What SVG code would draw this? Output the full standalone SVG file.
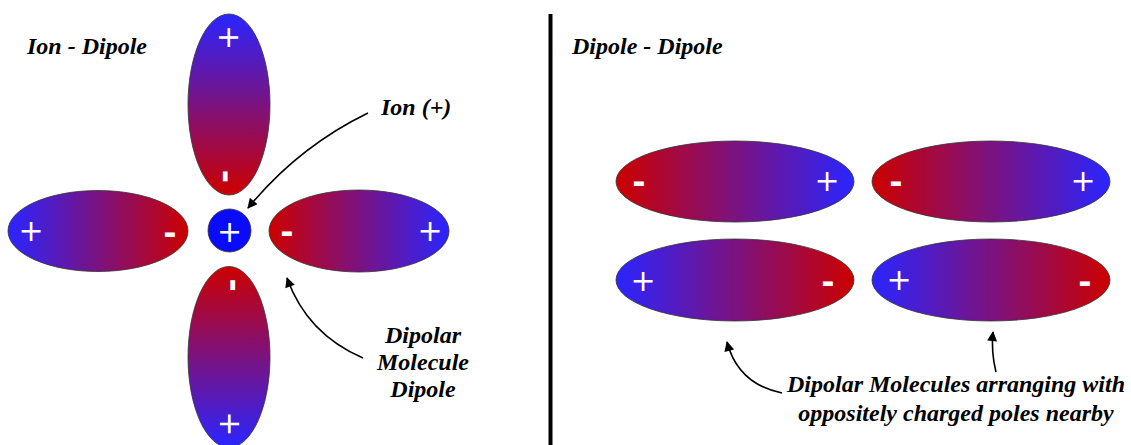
<svg xmlns="http://www.w3.org/2000/svg" width="1131" height="445" viewBox="0 0 1131 445">
<defs>
<linearGradient id="gradA" x1="0" y1="0" x2="1" y2="0">
<stop offset="0" stop-color="#2a25ff"/>
<stop offset="1" stop-color="#cc0000"/>
</linearGradient>
<linearGradient id="gradB" x1="0" y1="0" x2="1" y2="0">
<stop offset="0" stop-color="#cc0000"/>
<stop offset="1" stop-color="#2a25ff"/>
</linearGradient>
<marker id="arr" viewBox="0 0 10 10" refX="9" refY="5" markerWidth="12" markerHeight="10" markerUnits="userSpaceOnUse" orient="auto">
<path d="M0,0 L10,5 L0,10 z" fill="#000"/>
</marker>
<style>
.lbl{font-family:"Liberation Serif","Times New Roman",serif;font-weight:bold;font-style:italic;font-size:24px;fill:#000}
.plus{font-family:"DejaVu Sans",sans-serif;font-size:30px;fill:#fff;text-anchor:middle}
.minus{font-family:"DejaVu Sans",sans-serif;font-weight:bold;font-size:32px;fill:#fff;text-anchor:middle}
.mol{stroke:#333;stroke-width:0.8}
.conn{fill:none;stroke:#000;stroke-width:1.6;marker-end:url(#arr)}
</style>
</defs>
<rect width="1131" height="445" fill="#fff"/>

<line x1="550.5" y1="14" x2="550.5" y2="445" stroke="#000" stroke-width="4"/>

<text class="lbl" x="27" y="54">Ion - Dipole</text>
<text class="lbl" x="572" y="54">Dipole - Dipole</text>

<g id="dipole-left">
<ellipse class="mol" cx="98" cy="231" rx="90" ry="40.5" fill="url(#gradA)"/>
<text class="plus" x="31" y="241">+</text>
<text class="minus" x="170" y="244">-</text>
</g>
<g id="dipole-right">
<ellipse class="mol" cx="359" cy="231" rx="90" ry="41" fill="url(#gradB)"/>
<text class="minus" x="287" y="243">-</text>
<text class="plus" x="430" y="241">+</text>
</g>
<g id="dipole-top" transform="translate(229,104.5) rotate(90)">
<ellipse class="mol" cx="0" cy="0" rx="90.5" ry="41" fill="url(#gradA)"/>
<text class="plus" x="-67" y="10">+</text>
<text class="minus" x="72" y="13">-</text>
</g>
<g id="dipole-bottom" transform="translate(229,357) rotate(-90)">
<ellipse class="mol" cx="0" cy="0" rx="90.5" ry="41" fill="url(#gradA)"/>
<text class="plus" x="-67" y="10">+</text>
<text class="minus" x="72" y="13">-</text>
</g>
<g id="ion">
<circle cx="229.5" cy="230.5" r="21.5" fill="#0a0aff" stroke="#333" stroke-width="0.8"/>
<text class="plus" x="229.5" y="241.5">+</text>
</g>

<g id="dd-1">
<ellipse class="mol" cx="735" cy="181.5" rx="119" ry="40.5" fill="url(#gradB)"/>
<text class="minus" x="639" y="193">-</text>
<text class="plus" x="827" y="191">+</text>
</g>
<g id="dd-2">
<ellipse class="mol" cx="991" cy="181.5" rx="119" ry="40.5" fill="url(#gradB)"/>
<text class="minus" x="896" y="193">-</text>
<text class="plus" x="1083" y="191">+</text>
</g>
<g id="dd-3">
<ellipse class="mol" cx="735" cy="280" rx="119" ry="41" fill="url(#gradA)"/>
<text class="plus" x="643" y="291">+</text>
<text class="minus" x="828" y="293">-</text>
</g>
<g id="dd-4">
<ellipse class="mol" cx="991" cy="280" rx="119" ry="41" fill="url(#gradA)"/>
<text class="plus" x="899" y="290">+</text>
<text class="minus" x="1085" y="293">-</text>
</g>

<g id="label-ion">
<text class="lbl" x="381" y="115">Ion (+)</text>
</g>
<g id="label-dipolar">
<text class="lbl" text-anchor="middle" x="423" y="343">Dipolar</text>
<text class="lbl" text-anchor="middle" x="423" y="370">Molecule</text>
<text class="lbl" text-anchor="middle" x="423" y="397">Dipole</text>
</g>
<g id="label-dd">
<text class="lbl" text-anchor="middle" x="956" y="392">Dipolar Molecules arranging with</text>
<text class="lbl" text-anchor="middle" x="956" y="421">oppositely charged poles nearby</text>
</g>

<g id="connectors">
<path class="conn" d="M368,113 Q298,147 248,208"/>
<path class="conn" d="M363,358 Q307,334 287,278"/>
<path class="conn" d="M782,393 Q738,384 727,342"/>
<path class="conn" d="M996,372 Q991,352 993,332"/>
</g>
</svg>
